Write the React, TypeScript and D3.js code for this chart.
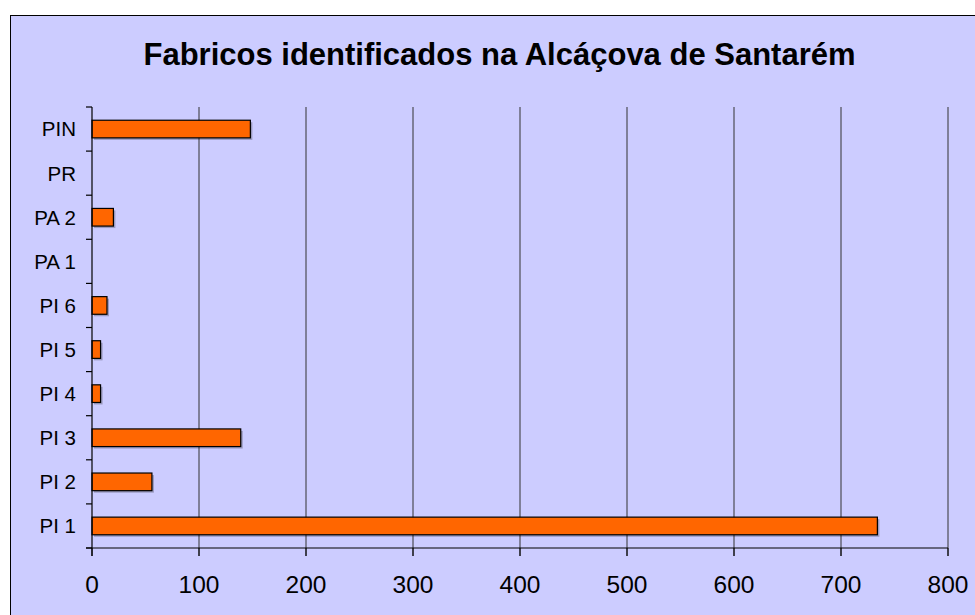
import React from 'react';
import * as d3 from 'd3';

// data
const categories = ['PI 1', 'PI 2', 'PI 3', 'PI 4', 'PI 5', 'PI 6', 'PA 1', 'PA 2', 'PR', 'PIN'];
const counts = [734, 56, 139, 8, 8, 14, 0, 20, 0, 148];
const xTicks = [0, 100, 200, 300, 400, 500, 600, 700, 800];
const title = 'Fabricos identificados na Alcáçova de Santarém';

const App = () => {
  const width = 975;
  const height = 615;
  const plot = { left: 92, right: 948, top: 107, bottom: 548 };
  const font = 'Arial, "Liberation Sans", sans-serif';

  const x = d3.scaleLinear().domain([0, 800]).range([plot.left, plot.right]);
  // categories listed bottom-up, so the first one sits at the bottom
  const y = d3.scaleBand()
    .domain(categories.slice().reverse())
    .range([plot.top, plot.bottom])
    .paddingInner(0.6)
    .paddingOuter(0.3);
  const band = d3.scaleBand().domain(categories.slice().reverse()).range([plot.top, plot.bottom]);

  const bandEdges = d3.range(categories.length + 1).map(i => plot.top + i * band.step());

  return (
    <svg width={width} height={height} style={{ position: 'absolute', left: 0, top: 0 }}>
      <rect x={0} y={0} width={width} height={height} fill="#ffffff" />
      <rect x={10.5} y={15.5} width={990} height={620} fill="#ccccff" stroke="#000" strokeWidth={1} />

      <text x={499.5} y={65} textAnchor="middle" fontFamily={font} fontWeight="bold" fontSize={31} fill="#000">
        {title}
      </text>

      {/* gridlines */}
      {xTicks.slice(1).map(t => (
        <line key={'g' + t} x1={x(t)} x2={x(t)} y1={plot.top} y2={plot.bottom + 8} stroke="#333" strokeWidth={1} />
      ))}

      {/* bars */}
      {categories.map((c, i) => counts[i] > 0 && (
        <g key={c}>
          <rect x={x(0) + 2} y={(y(c) as number) + 2} width={x(counts[i]) - x(0)} height={y.bandwidth()} fill="rgba(0,0,0,0.25)" />
          <rect x={x(0)} y={y(c)} width={x(counts[i]) - x(0)} height={y.bandwidth()} fill="#ff6600" stroke="#000" strokeWidth={1.2} />
        </g>
      ))}

      {/* category axis */}
      <line x1={plot.left} x2={plot.left} y1={plot.top} y2={plot.bottom + 8} stroke="#000" strokeWidth={1.2} />
      {bandEdges.map((e, i) => (
        <line key={'t' + i} x1={plot.left - 6} x2={plot.left} y1={e} y2={e} stroke="#000" strokeWidth={1.2} />
      ))}
      {categories.map(c => (
        <text key={'l' + c} x={76} y={(band(c) as number) + band.bandwidth() / 2} dy="0.36em" textAnchor="end"
          fontFamily={font} fontSize={20.5} fill="#000">
          {c}
        </text>
      ))}

      {/* value axis */}
      <line x1={plot.left - 6} x2={plot.right} y1={plot.bottom} y2={plot.bottom} stroke="#000" strokeWidth={1.2} />
      {xTicks.map(t => (
        <g key={'x' + t}>
          <line x1={x(t)} x2={x(t)} y1={plot.bottom} y2={plot.bottom + 8} stroke="#000" strokeWidth={1} />
          <text x={x(t)} y={593} textAnchor="middle" fontFamily={font} fontSize={24.5} fill="#000">{t}</text>
        </g>
      ))}
    </svg>
  );
};

export default App;
